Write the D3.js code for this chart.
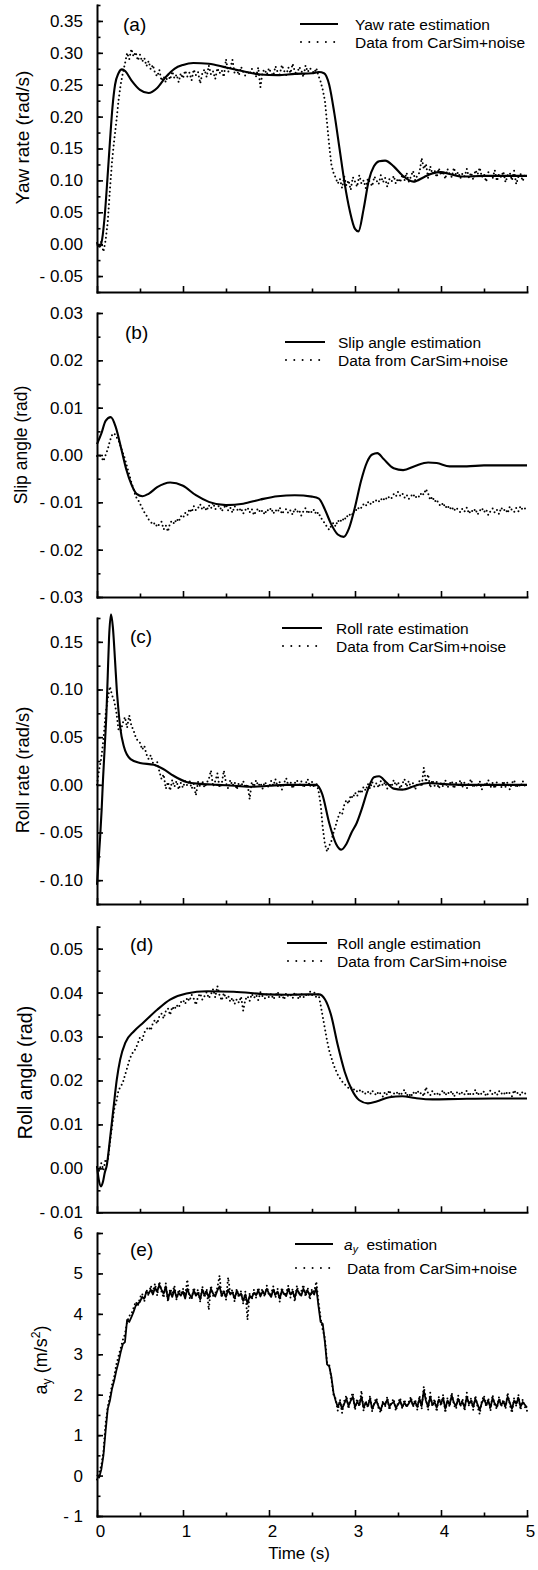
<!DOCTYPE html>
<html>
<head>
<meta charset="utf-8">
<script src="https://cdnjs.cloudflare.com/ajax/libs/d3/7.8.5/d3.min.js"></script>
<style>
html,body{margin:0;padding:0;background:#fff;}
svg{display:block;}
</style>
</head>
<body>
<script>
// ---------------- DATA ----------------
// Sampling times of the "Data from CarSim+noise" series (0 .. 5 s every 0.025 s)
const dataTime = d3.range(0, 201).map(i => +(i * 0.025).toFixed(3));

// (a) Yaw rate
const yawEstT = [0,0.03,0.06,0.09,0.12,0.15,0.18,0.21,0.25,0.29,0.33,0.4,0.5,0.6,0.7,0.8,0.9,1.0,1.12,1.3,1.5,1.7,1.9,2.1,2.3,2.5,2.58,2.64,2.7,2.76,2.82,2.88,2.94,3.0,3.04,3.1,3.16,3.22,3.28,3.35,3.45,3.55,3.68,3.8,3.9,4.0,4.1,4.25,4.5,4.75,5.0];
const yawEstV = [0.0,-0.004,0.008,0.045,0.1,0.16,0.215,0.25,0.268,0.274,0.271,0.257,0.242,0.237,0.245,0.262,0.275,0.281,0.284,0.283,0.277,0.271,0.266,0.265,0.267,0.268,0.27,0.268,0.25,0.205,0.15,0.095,0.052,0.024,0.02,0.055,0.1,0.122,0.13,0.131,0.122,0.108,0.098,0.105,0.111,0.113,0.11,0.106,0.107,0.107,0.107];
const yawData = [
0.002,-0.003,0.004,-0.012,0.006,0.035,0.085,0.13,0.163,0.192,
0.225,0.25,0.268,0.283,0.30,0.29,0.306,0.294,0.301,0.288,
0.297,0.286,0.292,0.279,0.287,0.274,0.281,0.268,0.263,0.273,
0.256,0.263,0.254,0.266,0.258,0.271,0.26,0.266,0.254,0.268,
0.26,0.272,0.263,0.269,0.257,0.274,0.265,0.27,0.252,0.268,
0.274,0.262,0.28,0.266,0.271,0.259,0.276,0.268,0.273,0.262,
0.29,0.27,0.276,0.289,0.268,0.274,0.265,0.278,0.27,0.264,
0.272,0.266,0.275,0.268,0.263,0.277,0.246,0.27,0.274,0.266,
0.276,0.268,0.264,0.279,0.27,0.266,0.281,0.272,0.265,0.277,
0.268,0.283,0.271,0.265,0.278,0.273,0.262,0.28,0.27,0.276,
0.272,0.268,0.276,0.264,0.255,0.242,0.225,0.19,0.155,0.125,
0.112,0.104,0.095,0.102,0.088,0.106,0.092,0.1,0.085,0.105,
0.098,0.09,0.108,0.095,0.1,0.088,0.103,0.097,0.091,0.106,
0.1,0.094,0.108,0.097,0.104,0.09,0.102,0.098,0.107,0.095,
0.103,0.097,0.109,0.1,0.112,0.098,0.106,0.115,0.1,0.108,
0.112,0.135,0.118,0.126,0.104,0.122,0.11,0.116,0.105,0.119,
0.108,0.114,0.102,0.118,0.11,0.105,0.12,0.108,0.113,0.103,
0.111,0.106,0.118,0.104,0.112,0.101,0.116,0.109,0.12,0.105,
0.11,0.098,0.113,0.107,0.103,0.116,0.099,0.11,0.105,0.114,
0.097,0.108,0.112,0.1,0.115,0.094,0.106,0.11,0.099,0.108,
0.104];
const yawTicks = [0.35,0.30,0.25,0.20,0.15,0.10,0.05,0.00,-0.05];
const yawTickLabels = ["0.35","0.30","0.25","0.20","0.15","0.10","0.05","0.00","- 0.05"];

// (b) Slip angle
const slipEstT = [0,0.05,0.1,0.16,0.22,0.28,0.34,0.4,0.46,0.53,0.6,0.7,0.85,1.0,1.15,1.3,1.5,1.7,1.9,2.1,2.3,2.5,2.58,2.65,2.72,2.8,2.87,2.93,3.0,3.07,3.14,3.2,3.26,3.33,3.45,3.56,3.7,3.85,3.95,4.1,4.3,4.5,4.75,5.0];
const slipEstV = [0.0023,0.0045,0.0072,0.008,0.0058,0.0015,-0.003,-0.0062,-0.0082,-0.0087,-0.0082,-0.0068,-0.0058,-0.0065,-0.0085,-0.0099,-0.0106,-0.0103,-0.0094,-0.0087,-0.0085,-0.0088,-0.0092,-0.0115,-0.0145,-0.0168,-0.0173,-0.0155,-0.011,-0.0055,-0.0015,0.0001,0.0004,-0.0008,-0.0028,-0.0032,-0.0023,-0.0016,-0.0017,-0.0024,-0.0024,-0.0022,-0.0022,-0.0022];
const slipData = [
-0.0002,0.0001,-0.0004,-0.0013,0.0000,0.0012,0.003,0.0042,0.0046,0.0038,
0.0031,0.0018,0.0005,-0.0008,-0.0025,-0.0041,-0.0058,-0.0072,-0.0088,-0.0094,
-0.0103,-0.0112,-0.0121,-0.0128,-0.0136,-0.0141,-0.0147,-0.0143,-0.0152,-0.0146,
-0.0141,-0.0157,-0.0149,-0.0162,-0.0143,-0.0139,-0.0146,-0.0135,-0.0141,-0.0129,
-0.0133,-0.0122,-0.0128,-0.0114,-0.0121,-0.0108,-0.0117,-0.0112,-0.0104,-0.0116,
-0.0109,-0.0118,-0.0106,-0.0113,-0.0101,-0.0115,-0.011,-0.0107,-0.0119,-0.0112,
-0.0105,-0.0117,-0.0111,-0.0122,-0.0108,-0.0114,-0.0119,-0.0112,-0.0124,-0.0116,
-0.0111,-0.0121,-0.0114,-0.0127,-0.0118,-0.0113,-0.0122,-0.0117,-0.0126,-0.0115,
-0.0119,-0.0112,-0.0124,-0.0116,-0.0121,-0.0111,-0.0125,-0.0118,-0.0114,-0.0123,
-0.0117,-0.0126,-0.0113,-0.0121,-0.0116,-0.0128,-0.0119,-0.0112,-0.0124,-0.0117,
-0.0122,-0.0115,-0.0126,-0.0121,-0.0132,-0.0138,-0.0145,-0.0152,-0.0158,-0.0149,
-0.0143,-0.0151,-0.0138,-0.0143,-0.0134,-0.0139,-0.0128,-0.0131,-0.0122,-0.0126,
-0.0114,-0.0118,-0.0109,-0.0112,-0.0104,-0.0108,-0.0099,-0.0105,-0.0098,-0.0101,
-0.0095,-0.0099,-0.0092,-0.0097,-0.0089,-0.0094,-0.0087,-0.0091,-0.0083,-0.0088,
-0.0078,-0.0086,-0.0081,-0.009,-0.0084,-0.0093,-0.0087,-0.0082,-0.0091,-0.0085,
-0.0089,-0.0079,-0.0084,-0.0072,-0.0081,-0.0095,-0.0088,-0.0099,-0.0094,-0.0104,
-0.0108,-0.0101,-0.0112,-0.0106,-0.0115,-0.0109,-0.0118,-0.0111,-0.0116,-0.0121,
-0.0113,-0.0119,-0.0111,-0.0124,-0.0116,-0.0121,-0.0114,-0.0126,-0.0118,-0.0112,
-0.0121,-0.0115,-0.0127,-0.0119,-0.0113,-0.0122,-0.0116,-0.0125,-0.0111,-0.0118,
-0.0114,-0.0123,-0.0109,-0.0117,-0.0121,-0.0112,-0.0119,-0.0108,-0.0116,-0.0113,
-0.0117];
const slipTicks = [0.03,0.02,0.01,0.00,-0.01,-0.02,-0.03];
const slipTickLabels = ["0.03","0.02","0.01","0.00","- 0.01","- 0.02","- 0.03"];

// (c) Roll rate
const rollRateEstT = [0,0.035,0.054,0.07,0.09,0.11,0.125,0.14,0.163,0.185,0.21,0.23,0.25,0.27,0.31,0.39,0.5,0.66,0.77,0.89,1.04,1.2,1.4,1.6,1.8,2.0,2.2,2.4,2.55,2.62,2.7,2.78,2.84,2.9,2.96,3.02,3.08,3.15,3.22,3.28,3.36,3.45,3.55,3.7,3.85,4.0,4.3,4.6,5.0];
const rollRateEstV = [-0.105,-0.057,-0.026,0.006,0.04,0.076,0.115,0.154,0.179,0.165,0.13,0.1,0.078,0.06,0.041,0.027,0.023,0.021,0.0166,0.0095,0.003,0.001,0.0,-0.001,-0.002,-0.001,0.0,0.0,0.0,-0.01,-0.04,-0.062,-0.068,-0.062,-0.05,-0.04,-0.025,-0.005,0.008,0.009,0.003,-0.004,-0.005,-0.001,0.002,0.001,0.0,0.0,0.0];
const rollRateData = [
0.0,0.016,0.028,0.048,0.074,0.09,0.103,0.094,0.088,0.076,
0.058,0.056,0.065,0.071,0.06,0.073,0.062,0.057,0.05,0.046,
0.044,0.037,0.041,0.032,0.027,0.031,0.023,0.02,0.024,0.014,
0.006,0.011,-0.004,0.003,-0.006,0.005,-0.002,0.004,-0.005,0.002,
-0.003,0.004,-0.001,0.005,-0.004,0.001,-0.011,0.003,-0.002,0.004,
-0.003,0.002,0.006,0.015,-0.002,0.004,0.012,-0.003,0.001,0.015,
0.002,-0.004,0.005,-0.001,0.003,-0.005,0.002,-0.002,0.004,-0.003,
0.001,-0.015,0.003,-0.002,0.005,-0.001,0.002,-0.004,0.003,0.0,
-0.003,0.004,-0.001,0.006,-0.002,0.003,-0.005,0.002,0.007,-0.001,
0.003,-0.004,0.002,0.005,-0.002,0.004,-0.003,0.001,0.006,-0.002,
0.003,-0.003,0.002,-0.006,-0.02,-0.045,-0.062,-0.07,-0.064,-0.059,
-0.05,-0.043,-0.035,-0.029,-0.031,-0.021,-0.016,-0.02,-0.011,-0.014,
-0.008,-0.012,-0.005,-0.009,-0.002,-0.006,0.001,-0.004,0.003,-0.002,
0.002,-0.003,0.004,-0.001,0.003,-0.004,0.002,-0.002,0.005,-0.001,
0.003,-0.004,0.001,0.006,-0.002,0.004,-0.003,0.002,-0.005,0.001,
0.004,-0.002,0.018,0.003,0.011,-0.003,0.005,-0.001,0.003,-0.004,
0.002,-0.002,0.005,-0.003,0.001,0.004,-0.004,0.002,-0.001,0.005,
-0.002,0.003,-0.004,0.002,0.006,-0.003,0.001,-0.002,0.004,-0.005,
0.002,-0.001,0.005,-0.003,0.002,-0.004,0.003,0.0,-0.003,0.004,
-0.002,0.003,-0.005,0.002,0.005,-0.003,0.001,-0.002,0.004,-0.001,
0.002];
const rollRateTicks = [0.15,0.10,0.05,0.00,-0.05,-0.10];
const rollRateTickLabels = ["0.15","0.10","0.05","0.00","- 0.05","- 0.10"];

// (d) Roll angle
const rollAngEstT = [0,0.02,0.047,0.07,0.09,0.112,0.15,0.19,0.23,0.27,0.33,0.43,0.54,0.7,0.85,1.04,1.28,1.59,1.97,2.2,2.45,2.58,2.65,2.72,2.8,2.88,2.96,3.05,3.15,3.25,3.4,3.55,3.7,3.9,4.2,4.6,5.0];
const rollAngEstV = [0.0005,-0.0025,-0.0041,-0.003,-0.001,0.0005,0.0065,0.0134,0.0202,0.0248,0.0286,0.0312,0.0332,0.0361,0.0384,0.0398,0.0403,0.0402,0.0396,0.0395,0.0396,0.0396,0.0385,0.035,0.028,0.022,0.018,0.0155,0.0148,0.0152,0.0162,0.0164,0.016,0.0157,0.0158,0.0159,0.0159];
const rollAngData = [
0.0003,-0.0006,0.0012,-0.0004,0.0021,0.0015,0.0058,0.0095,0.0135,0.0152,
0.0178,0.0186,0.0195,0.0212,0.0228,0.0245,0.0258,0.0266,0.0272,0.0285,
0.0298,0.0292,0.0309,0.0316,0.0322,0.0314,0.0331,0.0338,0.0329,0.0346,
0.0352,0.0341,0.0358,0.0364,0.0349,0.0368,0.0361,0.0372,0.0366,0.0378,
0.0383,0.0374,0.0389,0.0381,0.0395,0.0386,0.0372,0.0391,0.0398,0.0384,
0.0392,0.0401,0.0387,0.0396,0.0408,0.0389,0.0415,0.0394,0.0382,0.0399,
0.0386,0.0393,0.0379,0.0388,0.0374,0.0385,0.0377,0.0391,0.0359,0.0384,
0.0392,0.0381,0.0397,0.0388,0.0395,0.0383,0.0401,0.0392,0.0386,0.0397,
0.0389,0.0398,0.0385,0.0393,0.0402,0.0388,0.0396,0.0384,0.0399,0.0391,
0.0395,0.0387,0.0401,0.0392,0.0385,0.0398,0.0389,0.0396,0.0391,0.0403,
0.0394,0.0401,0.0389,0.0397,0.0372,0.0345,0.0318,0.0291,0.0268,0.0252,
0.0236,0.0224,0.0213,0.0205,0.0198,0.0192,0.0188,0.0183,0.0186,0.0178,
0.0181,0.0175,0.0179,0.0172,0.0176,0.0169,0.0174,0.0168,0.0177,0.0171,
0.0166,0.0175,0.0169,0.0163,0.0174,0.0167,0.0178,0.0164,0.0171,0.0168,
0.0175,0.0166,0.0172,0.0179,0.0165,0.0171,0.0163,0.0174,0.0168,0.0177,
0.0169,0.0173,0.0164,0.0185,0.0171,0.0166,0.0176,0.0169,0.0173,0.0165,
0.0172,0.0178,0.0166,0.0174,0.0169,0.0176,0.0163,0.0171,0.0175,0.0167,
0.0174,0.0168,0.0177,0.0165,0.0172,0.0169,0.0179,0.0166,0.0173,0.0168,
0.0175,0.0164,0.0171,0.0177,0.0168,0.0173,0.0166,0.0176,0.0169,0.0174,
0.0167,0.0175,0.0171,0.0164,0.0178,0.0169,0.0173,0.0166,0.0175,0.0171,
0.0168];
const rollAngTicks = [0.05,0.04,0.03,0.02,0.01,0.00,-0.01];
const rollAngTickLabels = ["0.05","0.04","0.03","0.02","0.01","0.00","- 0.01"];

// (e) Lateral acceleration
const ayEst = [
0.02,-0.05,0.15,0.5,1.1,1.65,1.85,2.15,2.35,2.6,
2.8,3.05,3.25,3.3,3.85,3.8,3.92,4.05,4.2,4.25,
4.3,4.42,4.38,4.55,4.5,4.6,4.48,4.65,4.55,4.72,
4.6,4.5,4.68,4.35,4.55,4.42,4.6,4.4,4.52,4.45,
4.55,4.38,4.62,4.48,4.4,4.58,4.45,4.52,4.36,4.6,
4.47,4.55,4.4,4.62,4.5,4.43,4.58,4.68,4.45,4.55,
4.42,4.6,4.48,4.53,4.38,4.57,4.46,4.5,4.32,4.48,
4.25,4.45,4.4,4.52,4.46,4.58,4.43,4.55,4.48,4.62,
4.5,4.42,4.6,4.47,4.55,4.38,4.58,4.5,4.44,4.62,
4.48,4.55,4.4,4.6,4.52,4.45,4.62,4.5,4.57,4.45,
4.55,4.48,4.65,4.2,3.8,3.75,3.3,2.75,2.7,2.45,
2.05,1.85,1.7,1.82,1.65,1.78,1.9,1.72,1.85,1.95,
1.7,1.82,1.75,1.95,1.68,1.8,1.72,1.9,1.65,1.78,
1.85,1.7,1.62,1.8,1.75,1.88,1.7,1.78,1.82,1.68,
1.75,1.85,1.7,1.8,1.72,1.78,1.88,1.74,1.82,1.7,
1.9,1.72,2.1,1.85,1.7,1.95,1.75,1.82,1.68,1.88,
1.78,1.92,1.65,1.85,1.75,1.98,1.8,1.72,1.9,1.75,
1.82,1.68,1.95,1.78,1.85,1.7,1.9,1.76,1.62,1.8,
1.9,1.75,1.85,1.68,1.92,1.78,1.7,1.88,1.75,1.82,
1.72,1.95,1.8,1.65,1.85,1.78,1.92,1.7,1.82,1.75,
1.68];
const ayData = [
-0.1,0.08,0.25,0.6,1.3,1.7,1.95,2.25,2.45,2.75,
2.95,3.15,3.35,3.5,3.8,3.95,4.0,4.15,4.3,4.2,
4.4,4.5,4.3,4.6,4.45,4.7,4.55,4.75,4.45,4.8,
4.55,4.4,4.75,4.3,4.62,4.5,4.7,4.35,4.6,4.5,
4.62,4.45,4.85,4.4,4.35,4.65,4.5,4.6,4.3,4.68,
4.4,4.62,4.1,4.7,4.45,4.5,4.65,4.95,4.4,4.6,
4.35,4.9,4.5,4.6,4.3,4.62,4.4,4.56,4.25,4.55,
3.85,4.5,4.35,4.6,4.4,4.65,4.5,4.62,4.42,4.7,
4.45,4.5,4.68,4.4,4.62,4.3,4.65,4.45,4.52,4.7,
4.4,4.62,4.3,4.7,4.45,4.55,4.72,4.42,4.65,4.35,
4.62,4.55,4.8,4.3,3.9,3.6,3.4,2.8,2.75,2.4,
2.0,1.9,1.6,1.88,1.55,1.85,1.98,1.65,1.92,2.05,
1.62,1.9,1.7,2.1,1.6,1.85,1.68,1.98,1.58,1.82,
1.92,1.65,1.55,1.85,1.7,1.95,1.62,1.82,1.9,1.6,
1.8,1.92,1.65,1.88,1.68,1.82,1.95,1.7,1.88,1.62,
1.98,1.65,2.2,1.9,1.62,2.05,1.7,1.9,1.58,1.95,
1.72,2.0,1.55,1.92,1.7,2.05,1.75,1.65,1.98,1.7,
1.9,1.6,2.05,1.72,1.92,1.62,1.98,1.7,1.52,1.85,
1.98,1.7,1.92,1.6,2.0,1.72,1.65,1.95,1.7,1.88,
1.65,2.05,1.75,1.55,1.92,1.72,2.0,1.62,1.88,1.7,
1.6];
const ayTicks = [6,5,4,3,2,1,0,-1];
const ayTickLabels = ["6","5","4","3","2","1","0","- 1"];

const timeTicks = [0,1,2,3,4,5];
const timeTickLabels = ["0","1","2","3","4","5"];
const timeMinorTicks = [0.5,1.5,2.5,3.5,4.5];

const estNames = ["Yaw rate estimation","Slip angle estimation","Roll rate estimation","Roll angle estimation","estimation"];
const dataName = "Data from CarSim+noise";
const panelTags = ["(a)","(b)","(c)","(d)","(e)"];

// ---------------- LAYOUT ----------------
const FONT = "'Liberation Sans', Arial, Helvetica, sans-serif";
const W = 538, H = 1570;
const svg = d3.select("body").append("svg").attr("width", W).attr("height", H)
  .style("font-family", FONT);

const x = d3.scaleLinear().domain([0, 5]).range([97, 527]);

const zip = (a, b) => a.map((v, i) => [v, b[i]]);

const panels = [
  { domain:[-0.075,0.375], range:[292,5], minorStep:0.025, ticks:yawTicks, labels:yawTickLabels,
    est: zip(yawEstT, yawEstV), estCurve: d3.curveMonotoneX, data: zip(dataTime, yawData),
    ylab:"Yaw rate (rad/s)", ylabX:22.5, ylabY:137.5, ylabSize:19,
    tag:[123,31], leg:{x1:300,x2:338,y1:24,tx:355,ty1:29.5,y2:42,ty2:47.5} },
  { domain:[-0.03,0.03], range:[597,313], minorStep:0.005, ticks:slipTicks, labels:slipTickLabels,
    est: zip(slipEstT, slipEstV), estCurve: d3.curveMonotoneX, data: zip(dataTime, slipData),
    ylab:"Slip angle (rad)", ylabX:21, ylabY:445, ylabSize:17.5,
    tag:[125,339], leg:{x1:285,x2:325,y1:342,tx:338,ty1:348,y2:360,ty2:366} },
  { domain:[-0.125,0.175], range:[904,618], minorStep:0.025, ticks:rollRateTicks, labels:rollRateTickLabels,
    est: zip(rollRateEstT, rollRateEstV), estCurve: d3.curveMonotoneX, data: zip(dataTime, rollRateData),
    ylab:"Roll rate (rad/s)", ylabX:22.5, ylabY:770, ylabSize:18.4,
    tag:[130,643], leg:{x1:282,x2:322,y1:628,tx:336,ty1:633.5,y2:646,ty2:651.5} },
  { domain:[-0.01,0.055], range:[1212.3,926.7], minorStep:0.005, ticks:rollAngTicks, labels:rollAngTickLabels,
    est: zip(rollAngEstT, rollAngEstV), estCurve: d3.curveMonotoneX, data: zip(dataTime, rollAngData),
    ylab:"Roll angle (rad)", ylabX:25, ylabY:1072.5, ylabSize:19.5,
    tag:[130,951], leg:{x1:287,x2:327,y1:943,tx:337,ty1:948.5,y2:961,ty2:966.5} },
  { domain:[-1,6], range:[1516,1233], minorStep:0.5, ticks:ayTicks, labels:ayTickLabels,
    est: zip(dataTime, ayEst), estCurve: d3.curveLinear, data: zip(dataTime, ayData),
    ylab:null, ylabX:41, ylabY:1360, ylabSize:18,
    tag:[130,1256], leg:{x1:295,x2:333,y1:1244,tx:344,ty1:1249.5,y2:1268,ty2:1273.5} }
];

const TICK_MAJOR = 6, TICK_MINOR = 3.5;

panels.forEach((p, pi) => {
  const y = d3.scaleLinear().domain(p.domain).range(p.range);
  const g = svg.append("g");

  // minor y ticks
  const nMinor = Math.round((p.domain[1] - p.domain[0]) / p.minorStep);
  const minor = d3.range(0, nMinor + 1).map(k => p.domain[0] + k * p.minorStep);
  const gyMinor = g.append("g").attr("transform", `translate(${x(0)},0)`)
    .call(d3.axisLeft(y).tickValues(minor).tickSize(-TICK_MINOR).tickSizeOuter(0).tickFormat(""));
  gyMinor.select(".domain").remove();

  const gy = g.append("g").attr("transform", `translate(${x(0)},0)`)
    .call(d3.axisLeft(y).tickValues(p.ticks).tickSize(-TICK_MAJOR).tickSizeOuter(0)
      .tickPadding(14).tickFormat((d, i) => p.labels[i]));

  gy.selectAll("text").attr("font-size", 17).attr("font-family", FONT).attr("fill", "#000");

  // x axis
  const bottom = p.range[0];
  const gxMinor = g.append("g").attr("transform", `translate(0,${bottom})`)
    .call(d3.axisBottom(x).tickValues(timeMinorTicks).tickSize(-TICK_MINOR).tickSizeOuter(0).tickFormat(""));
  gxMinor.select(".domain").remove();
  const gx = g.append("g").attr("transform", `translate(0,${bottom})`)
    .call(d3.axisBottom(x).tickValues(timeTicks).tickSize(-TICK_MAJOR).tickSizeOuter(0)
      .tickPadding(9).tickFormat((d, i) => pi === 4 ? timeTickLabels[i] : ""));
  gx.selectAll("text").attr("font-size", 17).attr("font-family", FONT).attr("fill", "#000").attr("dx", 3);

  g.selectAll(".domain").attr("stroke", "#000").attr("stroke-width", 2).attr("stroke-linecap", "square");
  g.selectAll(".tick line").attr("stroke", "#000").attr("stroke-width", 1.6);

  // data (dotted)
  const line = d3.line().x(d => x(d[0])).y(d => y(d[1]));
  g.append("path").datum(p.data)
    .attr("d", line.curve(d3.curveLinear))
    .attr("fill", "none").attr("stroke", "#000").attr("stroke-width", 2)
    .attr("stroke-linecap", "round").attr("stroke-dasharray", "0,4.2");

  // estimation (solid)
  g.append("path").datum(p.est)
    .attr("d", d3.line().x(d => x(d[0])).y(d => y(d[1])).curve(p.estCurve))
    .attr("fill", "none").attr("stroke", "#000").attr("stroke-width", pi === 4 ? 1.8 : 2.1)
    .attr("stroke-linejoin", "round");

  // panel tag
  g.append("text").attr("x", p.tag[0]).attr("y", p.tag[1]).attr("font-size", 19).text(panelTags[pi]);

  // y label
  const yl = g.append("text")
    .attr("transform", `translate(${p.ylabX},${p.ylabY}) rotate(-90)`)
    .attr("text-anchor", "middle").attr("dy", "0.35em").attr("font-size", p.ylabSize);
  if (p.ylab) {
    yl.text(p.ylab);
  } else {
    yl.append("tspan").text("a");
    yl.append("tspan").attr("font-size", p.ylabSize * 0.68).attr("dy", 4).text("y");
    yl.append("tspan").attr("dy", -4).text("\u00A0(m/s");
    yl.append("tspan").attr("font-size", p.ylabSize * 0.68).attr("dy", -7).text("2");
    yl.append("tspan").attr("dy", 7).text(")");
  }

  // legend
  const L = p.leg;
  g.append("line").attr("x1", L.x1).attr("x2", L.x2).attr("y1", L.y1).attr("y2", L.y1)
    .attr("stroke", "#000").attr("stroke-width", 2.2);
  g.append("line").attr("x1", L.x1 + 1).attr("x2", L.x2).attr("y1", L.y2).attr("y2", L.y2)
    .attr("stroke", "#000").attr("stroke-width", 2).attr("stroke-linecap", "round")
    .attr("stroke-dasharray", "0,8.3");
  const t1 = g.append("text").attr("x", L.tx).attr("y", L.ty1).attr("font-size", 15.5);
  if (pi === 4) {
    t1.append("tspan").attr("font-style", "italic").text("a");
    t1.append("tspan").attr("font-style", "italic").attr("font-size", 10.5).attr("dy", 3).text("y");
    t1.append("tspan").attr("dy", -3).text("\u00A0 " + estNames[pi]);
  } else {
    t1.text(estNames[pi]);
  }
  g.append("text").attr("x", pi === 4 ? L.tx + 3 : L.tx).attr("y", L.ty2).attr("font-size", 15.5).text(dataName);
});

// x-axis title
svg.append("text").attr("x", 299).attr("y", 1559).attr("text-anchor", "middle")
  .attr("font-size", 17).text("Time (s)");
</script>
</body>
</html>
